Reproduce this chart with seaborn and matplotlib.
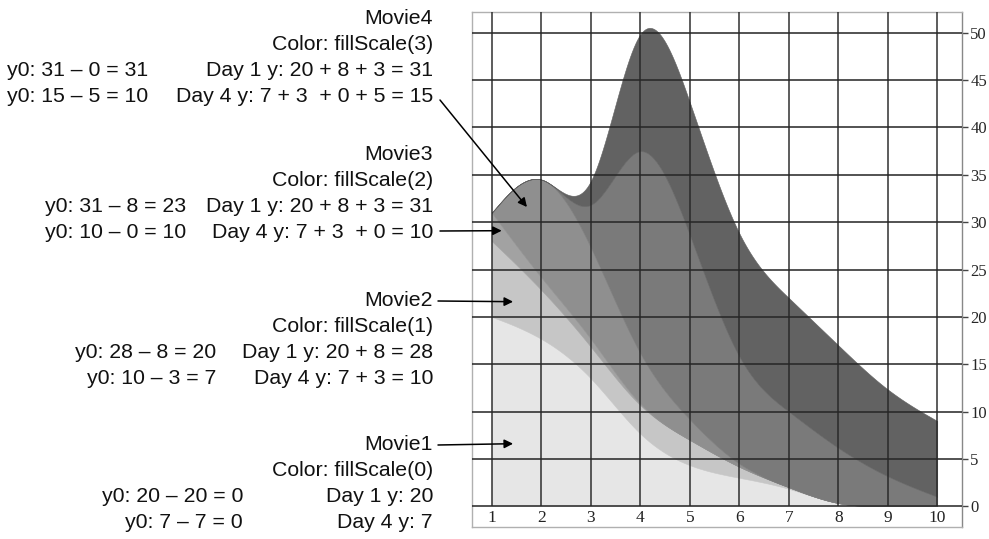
import numpy as np
import pandas as pd
import matplotlib
matplotlib.use("Agg")
import matplotlib.pyplot as plt
import seaborn as sns

# -----------------------------
# Dados (bilheteria diária por filme)
days = [1, 2, 3, 4, 5, 6, 7, 8, 9, 10]
movie1 = [20, 18, 14, 7, 4, 3, 2, 0, 0, 0]
movie2 = [8, 5, 3, 3, 3, 1, 0, 0, 0, 0]
movie3 = [3, 1, 1, 0, 0, 0, 0, 0, 0, 0]
movie4 = [0, 13, 10, 5, 2, 0, 0, 0, 0, 0]
movie5 = [0, 0, 0, 27, 20, 10, 8, 6, 3, 1]
movie6 = [0, 0, 0, 15, 14, 13, 12, 11, 9, 8]
movie_names = ['movie1', 'movie2', 'movie3', 'movie4', 'movie5', 'movie6']
y_ticks = [0, 5, 10, 15, 20, 25, 30, 35, 40, 45, 50]
fill_colors = ['#e6e6e6', '#c6c6c6', '#a2a2a2', '#8f8f8f', '#7a7a7a', '#626262']

df = pd.DataFrame({'day': days, 'movie1': movie1, 'movie2': movie2, 'movie3': movie3,
                   'movie4': movie4, 'movie5': movie5, 'movie6': movie6})


# -----------------------------
# curva "basis" (B-spline como no d3.curveBasis)
def basis_curve(xs, ys, n=30):
    xs = np.asarray(xs, float)
    ys = np.asarray(ys, float)
    px = [xs[0], (5 * xs[0] + xs[1]) / 6]
    py = [ys[0], (5 * ys[0] + ys[1]) / 6]
    t = np.linspace(0, 1, n)[1:]

    def bez(p0, p1, p2, p3):
        return ((1 - t) ** 3 * p0 + 3 * (1 - t) ** 2 * t * p1
                + 3 * (1 - t) * t ** 2 * p2 + t ** 3 * p3)

    ext_x = list(xs) + [xs[-1]]
    ext_y = list(ys) + [ys[-1]]
    for i in range(1, len(ext_x) - 1):
        for arr, src in ((px, ext_x), (py, ext_y)):
            a, b, c = src[i - 1], src[i], src[i + 1]
            start = arr[-1]
            seg = bez(start, (2 * a + b) / 3, (a + 2 * b) / 3, (a + 4 * b + c) / 6)
            arr.extend(seg)
    px.append(xs[-1])
    py.append(ys[-1])
    return np.array(px), np.array(py)


# -----------------------------
# Figura
sns.set_style("white")
plt.rcParams['font.family'] = ['Liberation Sans', 'DejaVu Sans']

W, H = 989, 539
fig = plt.figure(figsize=(W / 100, H / 100), dpi=100)
ax = fig.add_axes([472 / W, 12 / H, (962 - 472) / W, (527 - 12) / H])
ax.set_xlim(0.6, 10.5)
ax.set_ylim(-2.2, 52.2)

cum = np.zeros(len(days))
for name, col in zip(movie_names, fill_colors):
    top = cum + df[name].values
    cx, y0 = basis_curve(df['day'], cum)
    _, y1 = basis_curve(df['day'], top)
    ax.fill_between(cx, y0, y1, facecolor=col, edgecolor=col, lw=0.4, zorder=1)
    cum = top

# grade
for yv in y_ticks:
    ax.axhline(yv, color='#262626', lw=1.4, alpha=0.8, zorder=3)
ax.vlines(days, 0, 52.2, color='#262626', lw=1.4, alpha=0.75, zorder=3)

for s in ['left', 'top', 'bottom']:
    ax.spines[s].set_color('#b0b0b0')
    ax.spines[s].set_linewidth(1.0)
ax.spines['right'].set_color('#888888')
ax.spines['right'].set_linewidth(1.0)

ax.set_xticks([])
ax.yaxis.tick_right()
ax.set_yticks(y_ticks)
ax.set_yticklabels([str(v) for v in y_ticks], family='Liberation Serif', fontsize=12)
ax.tick_params(axis='y', direction='out', length=4, width=1, color='#444444', pad=2)

for d in days:
    ax.text(d, -1.2, str(d), ha='center', va='center', family='Liberation Serif',
            fontsize=12.5, color='#222222', zorder=4)

# -----------------------------
# Anotações
fs = 15.3
def ftext(x, y, s, ha='right'):
    fig.text(x / W, 1 - y / H, s, ha=ha, va='center', fontsize=fs, color='#111111')

blocks = [
    (18, 'Movie4', 'Color: fillScale(3)',
     ('y0: 31 – 0 = 31', 148, 'right'), 'Day 1 y: 20 + 8 + 3 = 31',
     ('y0: 15 – 5 = 10', 148, 'right'), 'Day 4 y: 7 + 3  + 0 + 5 = 15'),
    (154, 'Movie3', 'Color: fillScale(2)',
     ('y0: 31 – 8 = 23', 45, 'left'), 'Day 1 y: 20 + 8 + 3 = 31',
     ('y0: 10 – 0 = 10', 45, 'left'), 'Day 4 y: 7 + 3  + 0 = 10'),
    (300, 'Movie2', 'Color: fillScale(1)',
     ('y0: 28 – 8 = 20', 216, 'right'), 'Day 1 y: 20 + 8 = 28',
     ('y0: 10 – 3 = 7', 216, 'right'), 'Day 4 y: 7 + 3 = 10'),
    (445, 'Movie1', 'Color: fillScale(0)',
     ('y0: 20 – 20 = 0', 243, 'right'), 'Day 1 y: 20',
     ('y0: 7 – 7 = 0', 243, 'right'), 'Day 4 y: 7'),
]
for y, title, color_txt, l1, r1, l2, r2 in blocks:
    ftext(433, y, title)
    ftext(433, y + 26, color_txt)
    ftext(433, y + 52, r1)
    ftext(l1[1], y + 52, l1[0], ha=l1[2])
    ftext(433, y + 78, r2)
    ftext(l2[1], y + 78, l2[0], ha=l2[2])

arrows = [((440, 100), (1.71, 31.6)),
          ((440, 231), (1.20, 29.1)),
          ((438, 301), (1.43, 21.6)),
          ((438, 445), (1.43, 6.6))]
for (sx, sy), tip in arrows:
    ax.annotate('', xy=tip, xycoords='data', xytext=(sx, H - sy),
                textcoords='figure pixels', annotation_clip=False,
                arrowprops=dict(arrowstyle='-|>', color='black', lw=1.1,
                                mutation_scale=13, shrinkA=0, shrinkB=0),
                zorder=5)

fig.savefig('out.png', dpi=100)
